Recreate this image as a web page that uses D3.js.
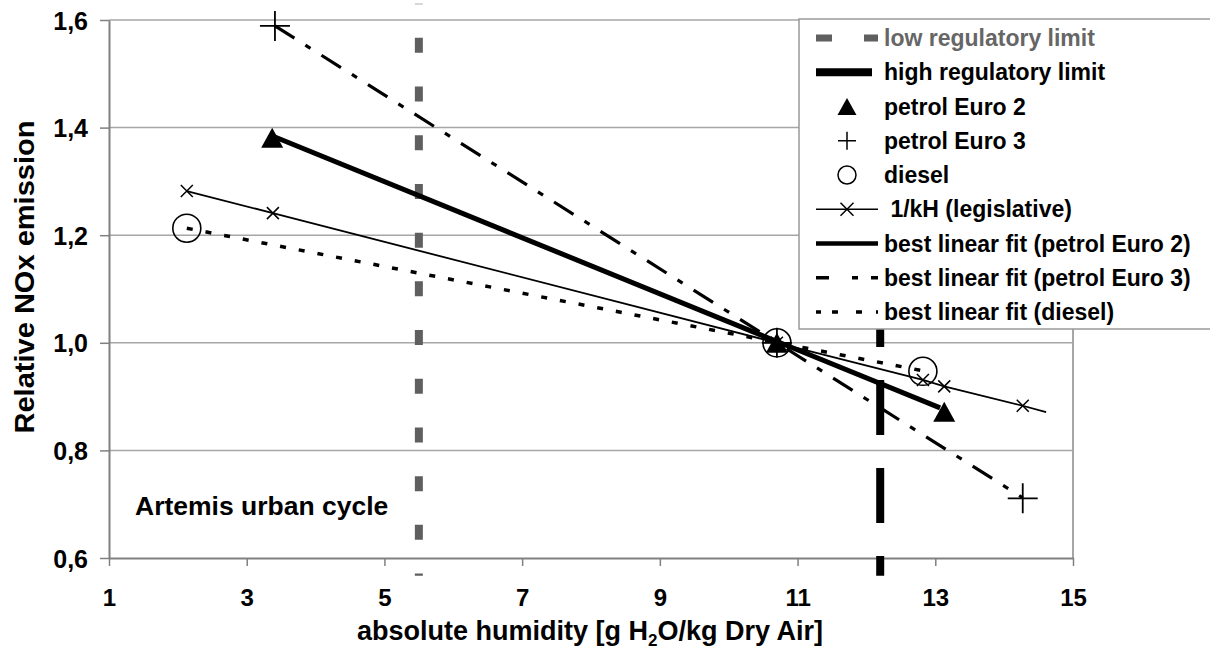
<!DOCTYPE html>
<html>
<head>
<meta charset="utf-8">
<script src="https://cdn.jsdelivr.net/npm/d3@7"></script>
<style>
body { margin: 0; background: #fff; }
text { font-family: "Liberation Sans", Arial, sans-serif; font-weight: bold; }
</style>
</head>
<body>
<svg width="1210" height="659"></svg>
<script>
// values
var xTicks = [1, 3, 5, 7, 9, 11, 13, 15];
var yTicks = [0.6, 0.8, 1.0, 1.2, 1.4, 1.6];

var lowLimit  = [[5.5, 1.63], [5.5, 0.567]];
var highLimit = [[12.2, 1.63], [12.2, 0.567]];

var euro2  = [[3.37, 1.381], [10.7, 1.0], [13.13, 0.872]];
var euro3  = [[3.41, 1.589], [10.7, 1.0], [14.27, 0.711]];
var diesel = [[2.13, 1.213], [10.7, 1.0], [12.82, 0.947]];
var kH     = [[2.13, 1.282], [3.38, 1.241], [10.7, 1.0], [12.82, 0.931], [13.13, 0.919], [14.27, 0.883]];
var kHEnd  = [14.61, 0.871];

var fitEuro2  = [[3.4, 1.383], [13.07, 0.879]];
var fitEuro3  = [[3.41, 1.589], [14.27, 0.712]];
var fitDiesel = [[2.13, 1.213], [12.82, 0.948]];

var legendLabels = ["low regulatory limit", "high regulatory limit", "petrol Euro 2", "petrol Euro 3",
  "diesel", " 1/kH (legislative)", "best linear fit (petrol Euro 2)", "best linear fit (petrol Euro 3)",
  "best linear fit (diesel)"];

(function(){
var svg = d3.select("svg");
var pL = 109, pR = 1073, pT = 20, pB = 558;

var x = d3.scaleLinear().domain([1, 15]).range([pL, pR]);
var y = d3.scaleLinear().domain([0.6, 1.6]).range([pB, pT]);

var line = d3.line().x(function(d){ return x(d[0]); }).y(function(d){ return y(d[1]); });

// gridlines + plot border
svg.append("g").selectAll("line").data(yTicks.slice(1)).enter().append("line")
  .attr("x1", pL).attr("x2", pR)
  .attr("y1", function(d){ return y(d); }).attr("y2", function(d){ return y(d); })
  .attr("stroke", "#a6a6a6").attr("stroke-width", 1.5);
svg.append("line").attr("x1", pR).attr("x2", pR).attr("y1", pT).attr("y2", pB)
  .attr("stroke", "#a6a6a6").attr("stroke-width", 2);

// axes
var yAxis = svg.append("g").attr("transform", "translate(" + pL + ",0)")
  .call(d3.axisLeft(y).tickValues(yTicks).tickSize(9).tickSizeOuter(0).tickPadding(12)
    .tickFormat(function(d){ return d3.format(".1f")(d).replace(".", ","); }));
var xAxis = svg.append("g").attr("transform", "translate(0," + pB + ")")
  .call(d3.axisBottom(x).tickValues(xTicks).tickSize(8).tickSizeOuter(0));

[yAxis, xAxis].forEach(function(a){
  a.select(".domain").attr("stroke", "#808080").attr("stroke-width", 2);
  a.selectAll(".tick line").attr("stroke", "#808080").attr("stroke-width", 1.5);
  a.selectAll("text").attr("fill", "#000").style("font-family", "'Liberation Sans', Arial, sans-serif").style("font-weight", "bold");
});
yAxis.selectAll("text").style("font-size", "25px").attr("dy", "0.36em");
xAxis.selectAll("text").style("font-size", "24px").attr("y", 48).attr("dy", 0);

// axis titles
var xt = svg.append("text").attr("x", 590).attr("y", 640).attr("text-anchor", "middle")
  .style("font-size", "27px");
xt.append("tspan").text("absolute humidity [g H");
xt.append("tspan").attr("dy", 6).style("font-size", "17px").text("2");
xt.append("tspan").attr("dy", -6).text("O/kg Dry Air]");

svg.append("text").attr("transform", "translate(34,277) rotate(-90)")
  .attr("text-anchor", "middle").style("font-size", "27px")
  .attr("textLength", 313).attr("lengthAdjust", "spacingAndGlyphs")
  .text("Relative NOx emission");

svg.append("text").attr("x", 135).attr("y", 515).style("font-size", "26.5px").text("Artemis urban cycle");

// regulatory limits
svg.append("path").datum(lowLimit).attr("d", line).attr("fill", "none")
  .attr("stroke", "#5f5f5f").attr("stroke-width", 8)
  .attr("stroke-dasharray", "15,33.7").attr("stroke-dashoffset", 14.7);
svg.append("path").datum(highLimit).attr("d", line).attr("fill", "none")
  .attr("stroke", "#000").attr("stroke-width", 8)
  .attr("stroke-dasharray", "55,33").attr("stroke-dashoffset", 63.9);

// marker shapes
function triPath(w, h){ return "M0," + (-h/2) + "L" + (w/2) + "," + (h/2) + "L" + (-w/2) + "," + (h/2) + "Z"; }
function plusPath(s){ return "M" + (-s/2) + ",0H" + (s/2) + "M0," + (-s/2) + "V" + (s/2); }
function crossPath(s){ return "M" + (-s/2) + "," + (-s/2) + "L" + (s/2) + "," + (s/2) + "M" + (s/2) + "," + (-s/2) + "L" + (-s/2) + "," + (s/2); }

function markers(data, d, fill, sw){
  svg.append("g").selectAll("path").data(data).enter().append("path")
    .attr("transform", function(p){ return "translate(" + x(p[0]) + "," + y(p[1]) + ")"; })
    .attr("d", d).attr("fill", fill).attr("stroke", "#000").attr("stroke-width", sw);
}

// 1/kH line
svg.append("path").datum(kH.concat([kHEnd])).attr("d", line).attr("fill", "none")
  .attr("stroke", "#000").attr("stroke-width", 1.8);
markers(kH, crossPath(12), "none", 1.5);

// data points
markers(euro2, triPath(22, 20), "#000", 0);
markers(euro3, plusPath(30), "none", 1.8);
svg.append("g").selectAll("circle").data(diesel).enter().append("circle")
  .attr("cx", function(p){ return x(p[0]); }).attr("cy", function(p){ return y(p[1]); })
  .attr("r", 14).attr("fill", "none").attr("stroke", "#000").attr("stroke-width", 1.6);

// fits
svg.append("path").datum(fitEuro2).attr("d", line).attr("fill", "none")
  .attr("stroke", "#000").attr("stroke-width", 5);
svg.append("path").datum(fitEuro3).attr("d", line).attr("fill", "none")
  .attr("stroke", "#000").attr("stroke-width", 3.2).attr("stroke-dasharray", "23,13,6,13");
svg.append("path").datum(fitDiesel).attr("d", line).attr("fill", "none")
  .attr("stroke", "#000").attr("stroke-width", 3.5).attr("stroke-dasharray", "6,13");

// legend
var lg = svg.append("g");
lg.append("rect").attr("x", 799).attr("y", 19).attr("width", 430).attr("height", 310)
  .attr("fill", "#fff").attr("stroke", "#999").attr("stroke-width", 1.5);

var rowY = function(i){ return 38 + i * 34.25; };
var sx1 = 816, sx2 = 878, sc = 847;

function legLine(i, col, w, dash){
  var l = lg.append("line").attr("x1", sx1).attr("x2", sx2).attr("y1", rowY(i)).attr("y2", rowY(i))
    .attr("stroke", col).attr("stroke-width", w);
  if (dash) l.attr("stroke-dasharray", dash);
}
legLine(0, "#5f5f5f", 7, "16,32");
legLine(1, "#000", 8, "56,40");
lg.append("path").attr("transform", "translate(" + sc + "," + rowY(2) + ")").attr("d", triPath(19, 17)).attr("fill", "#000");
lg.append("path").attr("transform", "translate(" + sc + "," + rowY(3) + ")").attr("d", plusPath(18))
  .attr("stroke", "#000").attr("stroke-width", 1.5);
lg.append("circle").attr("cx", sc).attr("cy", rowY(4)).attr("r", 9).attr("fill", "none")
  .attr("stroke", "#000").attr("stroke-width", 1.5);
legLine(5, "#000", 1.5);
lg.append("path").attr("transform", "translate(" + sc + "," + rowY(5) + ")").attr("d", crossPath(13))
  .attr("stroke", "#000").attr("stroke-width", 1.5);
legLine(6, "#000", 4.5);
legLine(7, "#000", 3.5, "13,23,6,13,23");
legLine(8, "#000", 3.5, "5,11,6,18,6,14");

lg.selectAll("text.lab").data(legendLabels).enter().append("text").attr("class", "lab")
  .attr("x", 884).attr("y", function(d, i){ return rowY(i) + 8; })
  .style("font-size", "23px").style("white-space", "pre")
  .attr("fill", function(d, i){ return i === 0 ? "#666" : "#000"; })
  .text(function(d){ return d; });
})();
</script>
</body>
</html>
